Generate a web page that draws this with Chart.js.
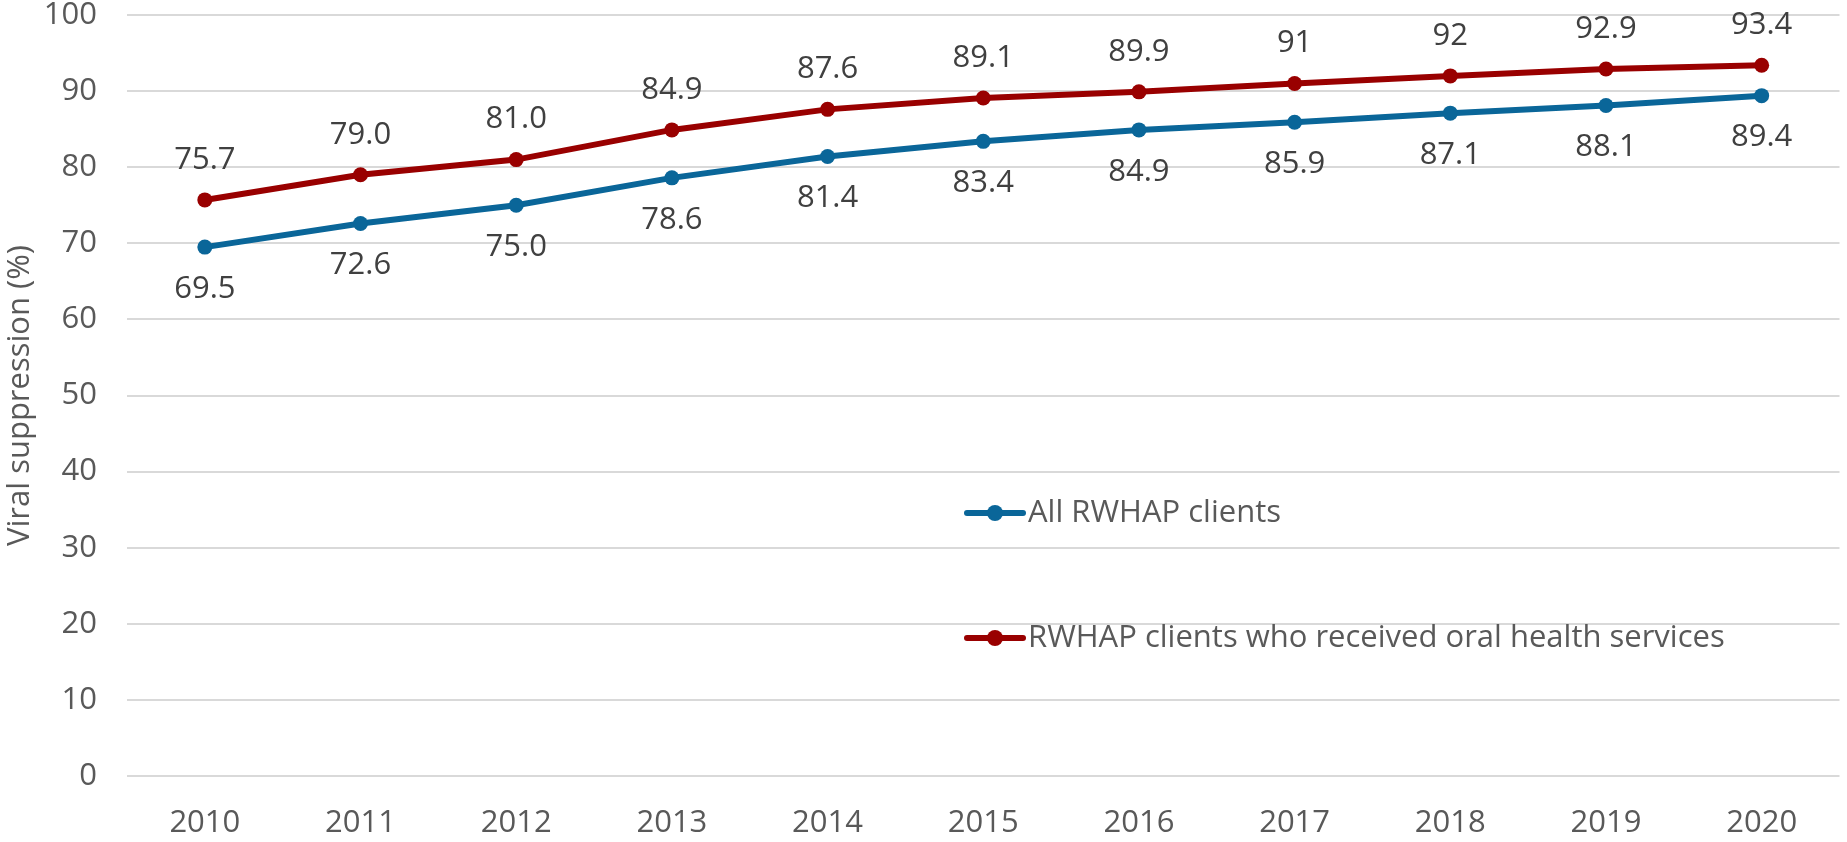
<!DOCTYPE html>
<html>
<head>
<meta charset="utf-8">
<script src="https://cdn.jsdelivr.net/npm/chart.js@4.4.1/dist/chart.umd.min.js"></script>
<style>
  html, body { margin: 0; padding: 0; background: #fff; }
  canvas { display: block; }
</style>
</head>
<body>
<canvas id="chart" width="1847" height="842"></canvas>
<script>
const years = ["2010", "2011", "2012", "2013", "2014", "2015", "2016", "2017", "2018", "2019", "2020"]
const allClients = [69.5, 72.6, 75.0, 78.6, 81.4, 83.4, 84.9, 85.9, 87.1, 88.1, 89.4]
const oralHealth = [75.7, 79.0, 81.0, 84.9, 87.6, 89.1, 89.9, 91, 92, 92.9, 93.4]
const allLabels = ["69.5", "72.6", "75.0", "78.6", "81.4", "83.4", "84.9", "85.9", "87.1", "88.1", "89.4"]
const oralLabels = ["75.7", "79.0", "81.0", "84.9", "87.6", "89.1", "89.9", "91", "92", "92.9", "93.4"]
const yTicks = [0, 10, 20, 30, 40, 50, 60, 70, 80, 90, 100]

const FONT = "'Open Sans'"
const SIZE = 31
const blue = "#0a6699"
const red = "#990000"

// value labels next to each point (blue below, red above)
const pointLabels = {
    id: "pointLabels",
    afterDatasetsDraw(chart) {
        const ctx = chart.ctx
        ctx.save()
        ctx.font = `${SIZE}px ${FONT}`
        ctx.fillStyle = "#404040"
        ctx.textAlign = "center"
        ctx.textBaseline = "middle"
        chart.data.datasets.forEach((ds, i) => {
            const meta = chart.getDatasetMeta(i)
            meta.data.forEach((pt, j) => {
                ctx.fillText(ds.valueLabels[j], pt.x, pt.y + ds.labelOffset)
            })
        })
        ctx.restore()
    }
}

// legend placed inside the plot, like the original
const insideLegend = {
    id: "insideLegend",
    afterDraw(chart) {
        const ctx = chart.ctx
        const rows = [513, 638]
        const x0 = 967
        ctx.save()
        chart.data.datasets.forEach((ds, i) => {
            const y = rows[i]
            ctx.strokeStyle = ds.borderColor
            ctx.lineWidth = 6
            ctx.lineCap = "round"
            ctx.beginPath()
            ctx.moveTo(x0, y)
            ctx.lineTo(x0 + 56, y)
            ctx.stroke()
            ctx.fillStyle = ds.borderColor
            ctx.beginPath()
            ctx.arc(x0 + 28, y, 8, 0, Math.PI * 2)
            ctx.fill()
            ctx.font = `${SIZE}px ${FONT}`
            ctx.fillStyle = "#595959"
            ctx.textAlign = "left"
            ctx.textBaseline = "middle"
            ctx.fillText(ds.label, x0 + 61, y)
        })
        ctx.restore()
    }
}

new Chart(document.querySelector("#chart"), {
    type: "line",
    data: {
        labels: years,
        datasets: [
            {
                label: "All RWHAP clients",
                data: allClients,
                valueLabels: allLabels,
                labelOffset: 42,
                borderColor: blue,
                backgroundColor: blue,
                borderWidth: 6,
                pointRadius: 7.5,
                pointBorderWidth: 0,
                tension: 0
            },
            {
                label: "RWHAP clients who received oral health services",
                data: oralHealth,
                valueLabels: oralLabels,
                labelOffset: -40,
                borderColor: red,
                backgroundColor: red,
                borderWidth: 6,
                pointRadius: 7.5,
                pointBorderWidth: 0,
                tension: 0
            }
        ]
    },
    options: {
        responsive: false,
        devicePixelRatio: 1,
        animation: false,
        layout: { padding: { top: 0, right: 4, left: 0, bottom: 0 } },
        plugins: {
            legend: { display: false },
            tooltip: { enabled: false }
        },
        scales: {
            x: {
                offset: true,
                grid: { display: false },
                border: { display: false },
                ticks: {
                    color: "#595959",
                    font: { family: FONT, size: SIZE },
                    padding: 21,
                    maxRotation: 0
                },
                afterFit(scale) { scale.height = 66 }
            },
            y: {
                min: 0,
                max: 100,
                afterBuildTicks(scale) { scale.ticks = yTicks.map(v => ({ value: v })) },
                grid: { color: "#d9d9d9", lineWidth: 2, drawTicks: false },
                border: { display: false },
                ticks: {
                    color: "#595959",
                    font: { family: FONT, size: SIZE },
                    padding: 30
                },
                title: {
                    display: true,
                    text: "Viral suppression (%)",
                    color: "#595959",
                    font: { family: FONT, size: SIZE },
                    padding: { top: 2, bottom: 0 }
                },
                afterFit(scale) {
                    scale.width = 127
                    scale.paddingTop = 15
                    scale.paddingBottom = 0
                }
            }
        }
    },
    plugins: [pointLabels, insideLegend]
})
</script>
</body>
</html>
